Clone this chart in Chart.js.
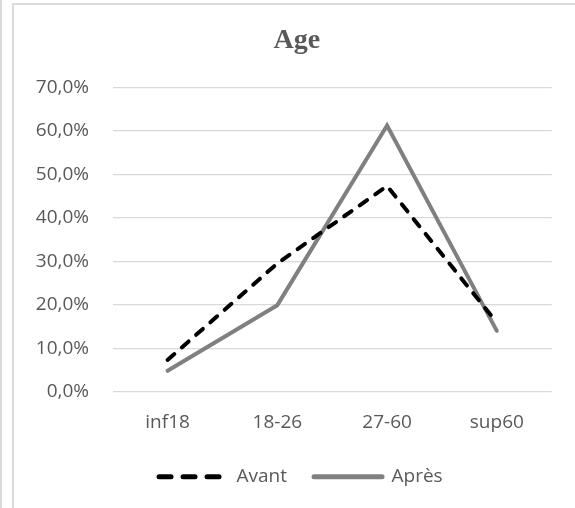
<!DOCTYPE html>
<html>
<head>
<meta charset="utf-8">
<script src="https://cdn.jsdelivr.net/npm/chart.js@4/dist/chart.umd.min.js"></script>
<style>
  html, body { margin: 0; padding: 0; background: #ffffff; }
  #wrap { position: relative; width: 575px; height: 508px; overflow: hidden; background: #fff; }
  #outerLine { position: absolute; left: 0; top: 0; width: 2px; height: 508px; background: #d9d9d9; }
  #frame { position: absolute; left: 12px; top: 3px; width: 700px; height: 700px; border: 2px solid #d9d9d9; box-sizing: border-box; }
  #c { position: absolute; left: 0; top: 0; }
</style>
</head>
<body>
<div id="wrap">
  <div id="outerLine"></div>
  <div id="frame"></div>
  <canvas id="c" width="575" height="508"></canvas>
</div>
<script>
const categories = ["inf18", "18-26", "27-60", "sup60"];
const avant = [7.3, 29.5, 47.3, 15.9];
const apres = [4.8, 19.9, 61.2, 14.0];
const seriesNames = ["Avant", "Après"];
const chartTitle = "Age";

const textColor = "#595959";
const gridColor = "#d9d9d9";
const FONT = "'Open Sans', sans-serif";

const shiftBoxes = {
  id: "shiftBoxes",
  afterLayout(chart) {
    const l = chart.legend;
    if (l) { l.left += 25; l.right += 25; }
    const t = chart.titleBlock;
    if (t) { t.left += 21; t.right += 21; }
  }
};

new Chart(document.getElementById("c"), {
  type: "line",
  data: {
    labels: categories,
    datasets: [
      {
        label: seriesNames[0],
        data: avant,
        borderColor: "#000000",
        backgroundColor: "#000000",
        borderWidth: 4,
        borderDash: [9, 10],
        borderCapStyle: "round",
        pointRadius: 0,
        tension: 0,
        fill: false
      },
      {
        label: seriesNames[1],
        data: apres,
        borderColor: "#808080",
        backgroundColor: "#808080",
        borderWidth: 4,
        borderCapStyle: "round",
        pointRadius: 0,
        tension: 0,
        fill: false
      }
    ]
  },
  options: {
    responsive: false,
    animation: false,
    layout: { padding: { left: 0, right: 23.3, top: 0, bottom: 11.8 } },
    plugins: {
      title: {
        display: true,
        text: chartTitle,
        color: textColor,
        font: { family: "'Liberation Serif', 'Times New Roman', serif", size: 28, weight: "bold", lineHeight: 1.2 },
        padding: { top: 24.2, bottom: 29.5 }
      },
      legend: {
        display: true,
        position: "bottom",
        labels: {
          color: textColor,
          font: { family: FONT, size: 19 },
          usePointStyle: true,
          pointStyle: "line",
          pointStyleWidth: 68,
          padding: 27,
          generateLabels(chart) {
            const items = Chart.defaults.plugins.legend.labels.generateLabels(chart);
            items.forEach(it => {
              it.lineWidth = 5;
              it.lineCap = "round";
              it.lineDash = it.datasetIndex === 0 ? [12, 12] : [];
              it.fontColor = textColor;
            });
            return items;
          }
        }
      },
      tooltip: { enabled: false }
    },
    scales: {
      x: {
        offset: true,
        grid: { display: false, drawTicks: false },
        border: { display: false },
        ticks: {
          color: textColor,
          font: { family: FONT, size: 19, lineHeight: 1.2 },
          padding: 19.6,
          maxRotation: 0
        },
        afterFit(scale) { scale.height = 48.5; }
      },
      y: {
        min: 0,
        max: 70,
        grid: { color: gridColor, lineWidth: 1.3, drawTicks: false },
        border: { display: false },
        ticks: {
          stepSize: 10,
          color: textColor,
          font: { family: FONT, size: 19, lineHeight: 1.2 },
          padding: 23.7,
          callback: v => v.toFixed(1).replace(".", ",") + "%"
        },
        afterFit(scale) { scale.width = 112.7; }
      }
    }
  },
  plugins: [shiftBoxes]
});
</script>
</body>
</html>
